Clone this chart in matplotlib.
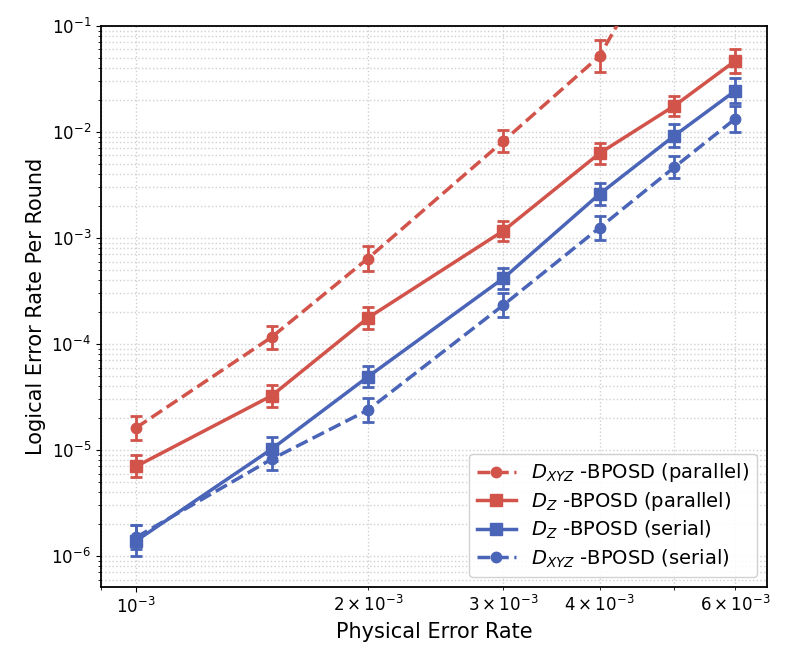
import matplotlib.pyplot as plt
import numpy as np

PHYS_ERR = [1.0e-3, 1.5e-3, 2.0e-3, 3.0e-3, 4.0e-3, 5.0e-3, 6.0e-3]

# logical error rate per round
DXYZ_PARALLEL = [1.62e-5, 1.16e-4, 6.4e-4, 8.2e-3, 5.2e-2, 0.9]
DZ_PARALLEL = [7.0e-6, 3.25e-5, 1.76e-4, 1.17e-3, 6.3e-3, 1.76e-2, 4.68e-2]
DZ_SERIAL = [1.39e-6, 1.02e-5, 4.9e-5, 4.17e-4, 2.6e-3, 9.2e-3, 2.44e-2]
DXYZ_SERIAL = [1.5e-6, 8.2e-6, 2.38e-5, 2.33e-4, 1.25e-3, 4.64e-3, 1.33e-2]

# multiplicative error-bar factors (value*k up, value/k down)
DXYZ_PARALLEL_K = [1.29, 1.28, 1.30, 1.26, 1.41, 1.4]
DZ_PARALLEL_K = [1.27, 1.27, 1.27, 1.24, 1.26, 1.24, 1.30]
DZ_SERIAL_K = [1.40, 1.30, 1.26, 1.25, 1.26, 1.28, 1.31]
DXYZ_SERIAL_K = [1.30, 1.27, 1.30, 1.30, 1.30, 1.27, 1.33]

RED = '#d1534a'
BLUE = '#4a64b8'


def plot_series(ax, ys, ks, *, label, color, marker, linestyle, ms):
    xs = PHYS_ERR[:len(ys)]
    ys = np.array(ys)
    ks = np.array(ks)
    yerr = [ys - ys / ks, ys * ks - ys]
    ax.errorbar(xs, ys, yerr=yerr, fmt='none', ecolor=color,
                elinewidth=2, capsize=4, capthick=2, zorder=3)
    ax.plot(xs, ys, label=label, color=color, marker=marker,
            linestyle=linestyle, linewidth=2.5, markersize=ms, zorder=4)


def main():
    fig = plt.figure(figsize=(7.94, 6.66), dpi=100)
    ax = fig.add_axes([0.127, 0.1186, 0.839, 0.8424])

    ax.set_xscale('log')
    ax.set_yscale('log')
    ax.set_xlim(9.0e-4, 6.6e-3)
    ax.set_ylim(5.1e-7, 1e-1)

    ax.grid(which='major', color='#d0d0d0', linestyle=':', linewidth=1)
    ax.grid(which='minor', color='#d0d0d0', linestyle=':', linewidth=1)
    ax.set_axisbelow(True)

    plot_series(ax, DXYZ_PARALLEL, DXYZ_PARALLEL_K, label=r'$D_{XYZ}$ -BPOSD (parallel)',
                color=RED, marker='o', linestyle='--', ms=7.5)
    plot_series(ax, DZ_PARALLEL, DZ_PARALLEL_K, label=r'$D_Z$ -BPOSD (parallel)',
                color=RED, marker='s', linestyle='-', ms=8)
    plot_series(ax, DZ_SERIAL, DZ_SERIAL_K, label=r'$D_Z$ -BPOSD (serial)',
                color=BLUE, marker='s', linestyle='-', ms=8)
    plot_series(ax, DXYZ_SERIAL, DXYZ_SERIAL_K, label=r'$D_{XYZ}$ -BPOSD (serial)',
                color=BLUE, marker='o', linestyle='--', ms=7.5)

    ax.set_xlabel('Physical Error Rate', fontsize=15)
    ax.set_ylabel('Logical Error Rate Per Round', fontsize=15)
    ax.tick_params(which='both', labelsize=12)
    for s in ax.spines.values():
        s.set_linewidth(1.3)

    ax.legend(loc='lower right', fontsize=14, labelspacing=0.3, framealpha=0.9)
    fig.savefig('out.png', dpi=100)


if __name__ == '__main__':
    main()
